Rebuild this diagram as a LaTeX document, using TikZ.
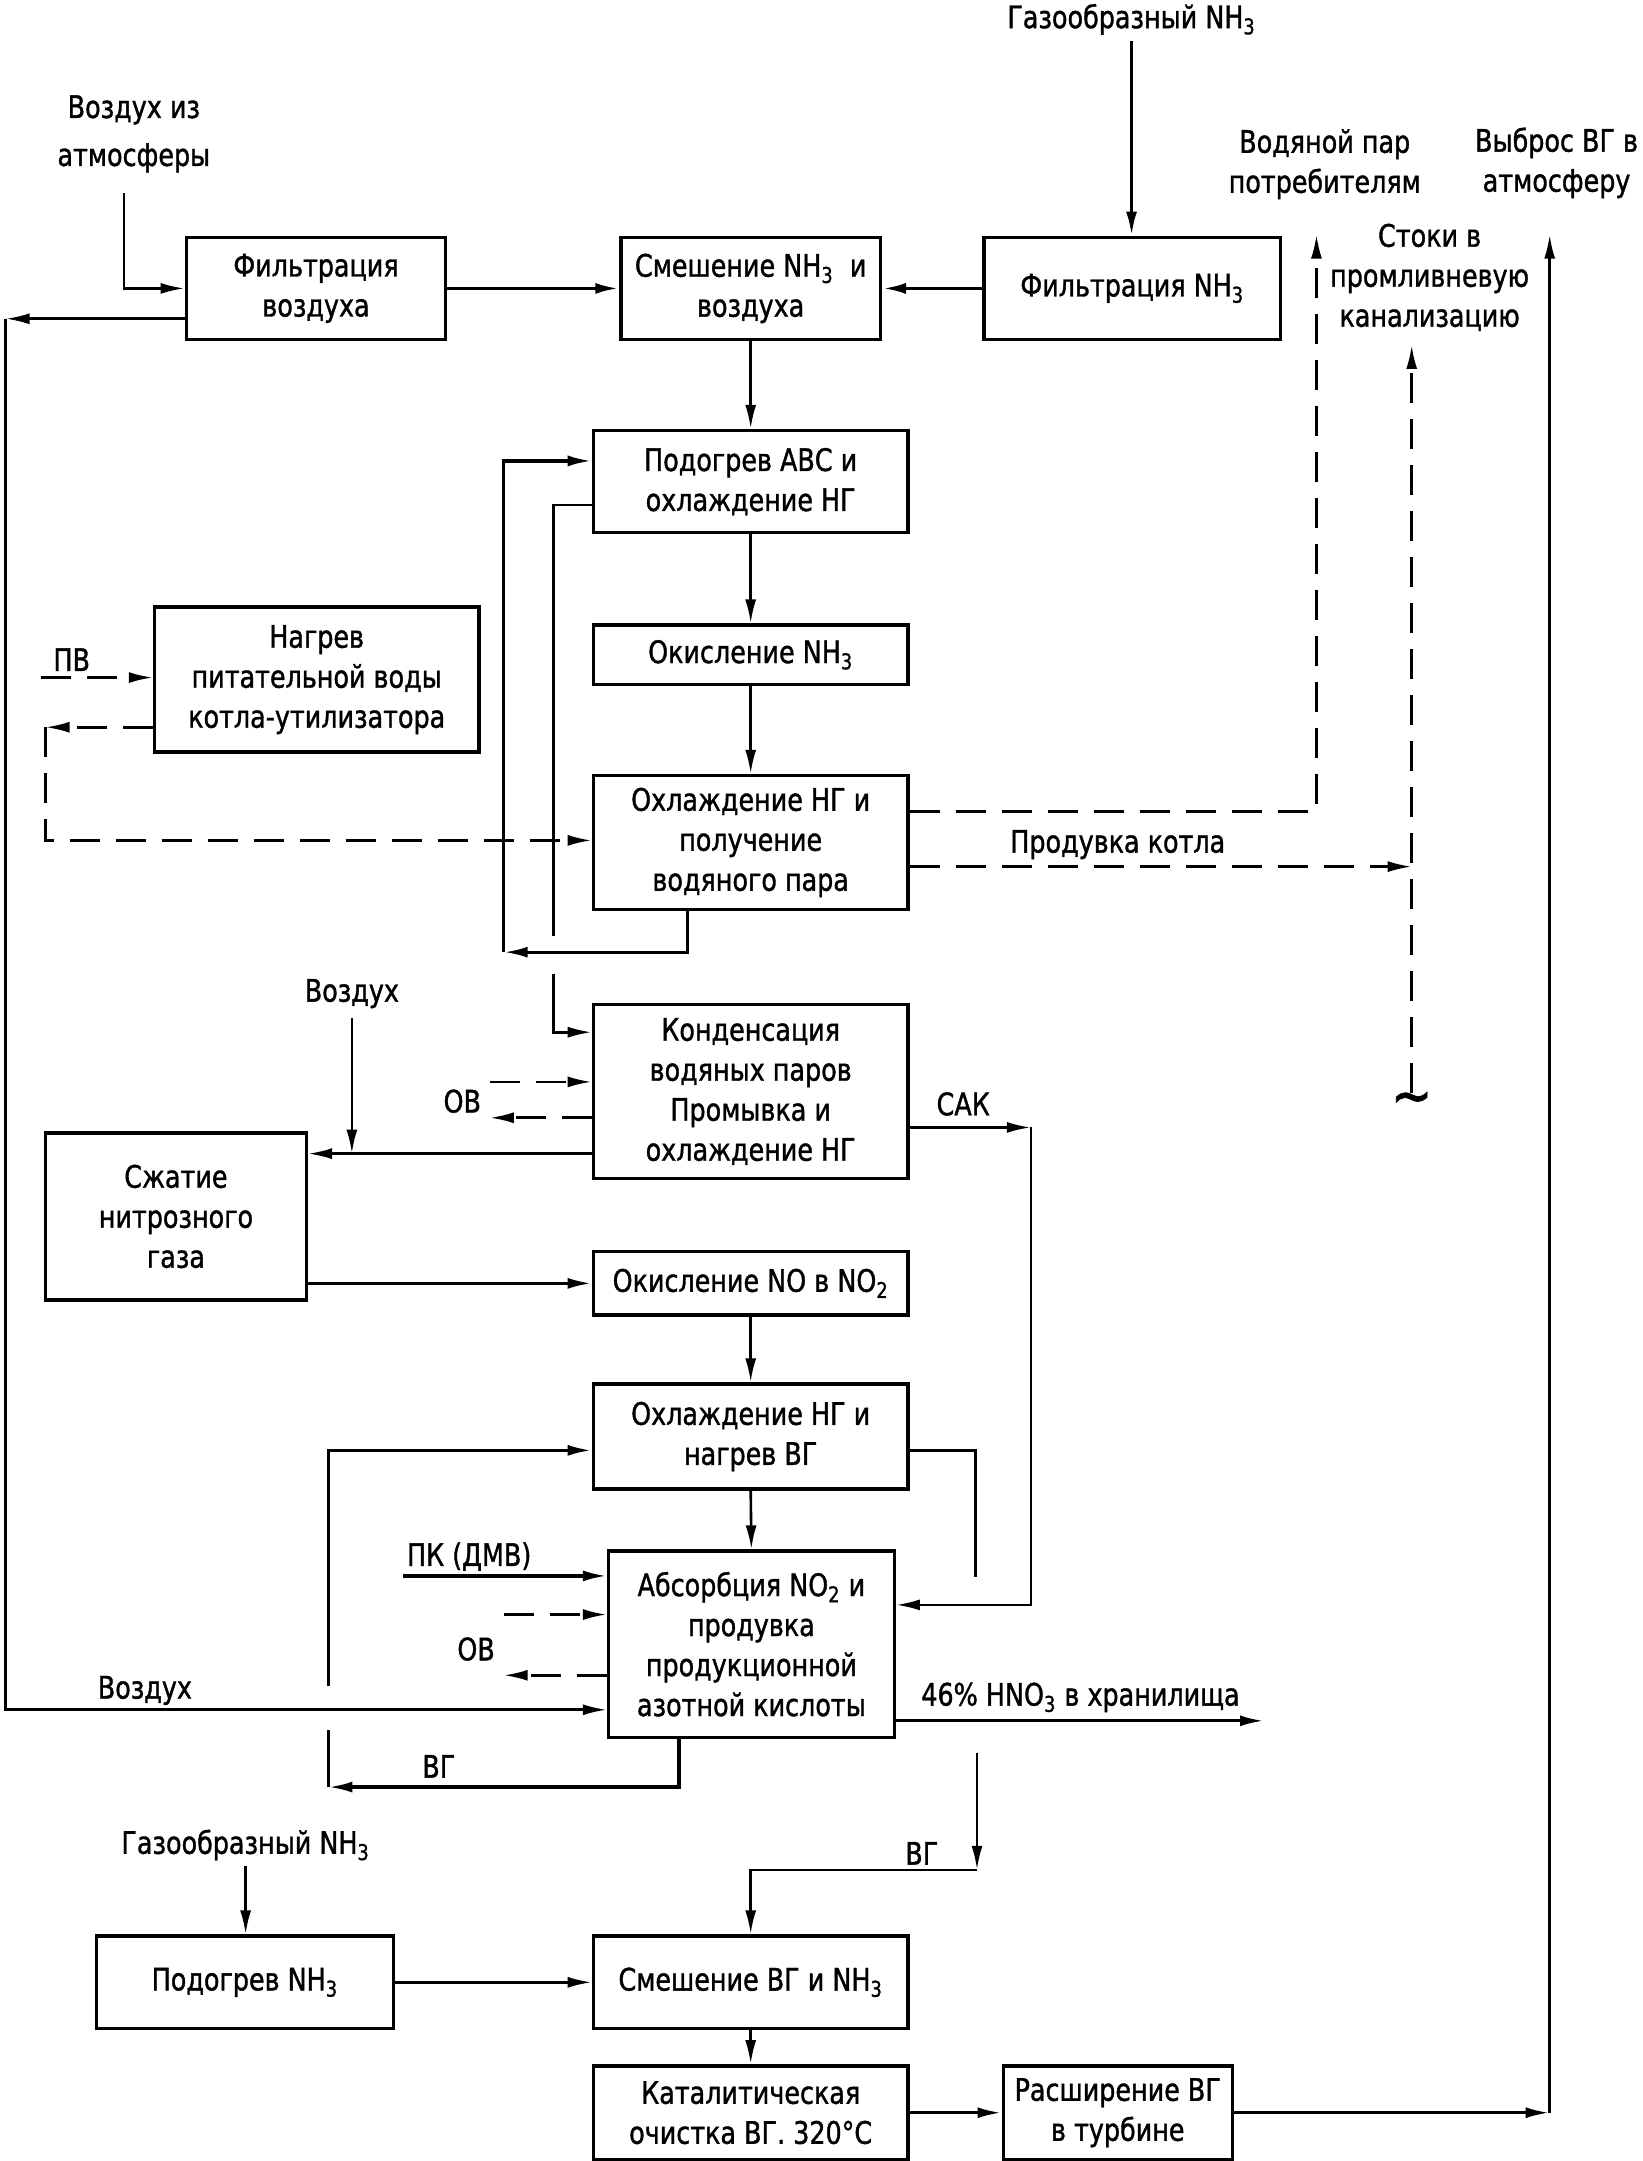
\documentclass[tikz,border=0pt]{standalone}
\usepackage{fontspec}
\setmainfont{DejaVu Sans}[FakeStretch=0.82, FakeBold=1.2]
\usetikzlibrary{arrows.meta}
\newcommand\fs{\fontsize{15.5}{20}\selectfont}
\newcommand\pbox[6]{\node[box, minimum width={(#4-#2)*0.69pt}, minimum height={(#5-#3)*0.69pt}] (#1) at ({(#2+#4)/2},{(#3+#5)/2}) {#6};}
\tikzset{
 box/.style={draw, line width=1.7pt, align=center, inner sep=0pt, font=\fs},
 con/.style={line width=1.3pt},
 arr/.style={con, -{Latex[length=12pt,width=5.5pt]}},
 darr/.style={arr, dash pattern=on 15pt off 8pt},
 dcon/.style={con, dash pattern=on 15pt off 8pt},
 lbl/.style={align=center, inner sep=0pt, font=\fs},
}
\begin{document}
\begin{tikzpicture}[x=0.69pt, y=-0.69pt]
\useasboundingbox (0,0) rectangle (1190,1566);
% boxes
\pbox{b1}{135}{172}{323}{246}{Фильтрация\\воздуха}
\pbox{b2}{450}{172}{638}{246}{Смешение NH\textsubscript{3} \ и\\воздуха}
\pbox{b3}{713}{172}{928}{246}{Фильтрация NH\textsubscript{3}}
\pbox{b4}{430}{312}{658}{386}{Подогрев АВС и\\охлаждение НГ}
\pbox{b5}{430}{453}{658}{496}{Окисление NH\textsubscript{3}}
\pbox{b6}{430}{562}{658}{659}{Охлаждение НГ и\\получение\\водяного пара}
\pbox{b7}{112}{440}{347}{545}{Нагрев\\питательной воды\\котла-утилизатора}
\pbox{b8}{430}{728}{658}{854}{Конденсация\\водяных паров\\Промывка и\\охлаждение НГ}
\pbox{b9}{33}{821}{222}{942}{Сжатие\\нитрозного\\газа}
\pbox{b10}{430}{907}{658}{953}{Окисление NO в NO\textsubscript{2}}
\pbox{b11}{430}{1003}{658}{1079}{Охлаждение НГ и\\нагрев ВГ}
\pbox{b12}{441}{1124}{648}{1259}{Абсорбция NO\textsubscript{2} и\\продувка\\продукционной\\азотной кислоты}
\pbox{b13}{70}{1403}{285}{1470}{Подогрев NH\textsubscript{3}}
\pbox{b14}{430}{1403}{658}{1470}{Смешение ВГ и NH\textsubscript{3}}
\pbox{b15}{430}{1497}{658}{1565}{Каталитическая\\очистка ВГ. 320°С}
\pbox{b16}{727}{1497}{893}{1565}{Расширение ВГ\\в турбине}
% labels
\node[lbl] (tAtm) at (97,97) {Воздух из\\[4pt]атмосферы};
\node[lbl] (tNH3a) at (820,14) {Газообразный NH\textsubscript{3}};
\node[lbl] (tPar) at (960,119) {Водяной пар\\потребителям};
\node[lbl] (tVyb) at (1128,118) {Выброс ВГ в\\атмосферу};
\node[lbl] (tStok) at (1036,201) {Стоки в\\промливневую\\канализацию};
\node[lbl] (tPV) at (52,478) {ПВ};
\node[lbl] (tProd) at (810,612) {Продувка котла};
\node[lbl] (tVoz1) at (255,720) {Воздух};
\node[lbl] (tOV1) at (335,798) {ОВ};
\node[lbl] (tSAK) at (698,800) {САК};
\node[lbl] (tPK) at (340,1128) {ПК (ДМВ)};
\node[lbl] (tOV2) at (345,1195) {ОВ};
\node[lbl] (tVoz2) at (105,1225) {Воздух};
\node[lbl] (tHNO) at (783,1230) {46\% HNO\textsubscript{3} в хранилища};
\node[lbl] (tVG1) at (318,1280) {ВГ};
\node[lbl] (tVG2) at (668,1343) {ВГ};
\node[lbl] (tNH3b) at (178,1337) {Газообразный NH\textsubscript{3}};
\node[lbl, font=\fontsize{30}{30}\selectfont] (tilde) at (1023,800) {∼};
% coordinates
\coordinate (airA) at (90,140);
\coordinate (Lt) at (4,231);
\coordinate (Lb) at (4,1239);
\coordinate (nh3top) at (820,30);
\coordinate (loopA) at (498,690);
\coordinate (loopB) at (365,690);
\coordinate (inA) at (401,678);
\coordinate (inB) at (401,706);
\coordinate (pv) at (30,491);
\coordinate (pvR) at (33,527);
\coordinate (parTop) at (954,170);
\coordinate (stokB) at (1023,792);
\coordinate (stokT) at (1023,250);
\coordinate (stokM) at (1023,628);
\coordinate (ov1a) at (355,784);
\coordinate (ov1b) at (355,810);
\coordinate (vozTop) at (255,738);
\coordinate (vozBot) at (255,836);
\coordinate (sakA) at (747,817);
\coordinate (hotA) at (707,1143);
\coordinate (vgUp) at (238,1222);
\coordinate (vgLo) at (238,1295);
\coordinate (vgLo2) at (238,1254);
\coordinate (pk) at (292,1142);
\coordinate (ov2a) at (365,1170);
\coordinate (ov2b) at (365,1214);
\coordinate (hno) at (916,1247);
\coordinate (vgA) at (708,1270);
\coordinate (vgB) at (708,1355);
\coordinate (nh3b) at (178,1352);
\coordinate (outR) at (1123,1531);
\coordinate (outT) at (1123,170);
% connectors
\draw[arr] (airA) |- (b1.west |- 0,209);
\draw[arr] (b1.west |- Lt) -- (Lt);
\draw[arr] (Lt) -- (Lb) -- (b12.west |- Lb);
\draw[arr, line width=1.8pt] (b1.east |- 0,209) -- (b2.west |- 0,209);
\draw[arr, line width=1.8pt] (b3.west |- 0,209) -- (b2.east |- 0,209);
\draw[arr, line width=1.6pt] (nh3top) -- (b3.north -| nh3top);
\draw[arr] (b2.south) -- (b4.north);
\draw[arr] (b4.south) -- (b5.north);
\draw[arr] (b5.south) -- (b6.north);
\draw[arr, line width=1.6pt] (b6.south -| loopA) -- (loopA) -- (loopB);
\draw[arr, line width=1.6pt] (loopB) -- (365,334) -- (b4.west |- 0,334);
\draw[con] (b4.west |- 0,366) -| (inA);
\draw[arr] (inB) |- (b8.west |- 0,748);
\draw[darr] (pv) -- (b7.west |- pv);
\draw[darr] (b7.west |- pvR) -- (pvR);
\draw[darr] (pvR) |- (b6.west |- 0,609);
\draw[darr] (b6.east |- 0,588) -| (parTop);
\draw[darr] (b6.east |- stokM) -- (stokM);
\draw[darr] (stokB) -- (stokT);
\draw[darr] (ov1a) -- (b8.west |- ov1a);
\draw[darr] (b8.west |- ov1b) -- (ov1b);
\draw[arr] (b8.west |- vozBot) -- (b9.east |- vozBot);
\draw[arr] (vozTop) -- (vozBot);
\draw[arr, line width=1.6pt] (b9.east |- 0,930) -- (b10.west |- 0,930);
\draw[arr] (b10.south) -- (b11.north);
\draw[arr] (b11.south) -- (b12.north);
\draw[arr] (b8.east |- sakA) -- (sakA);
\draw[arr] (sakA) |- (b12.east |- 0,1163);
\draw[con] (b11.east |- 0,1051) -| (hotA);
\draw[arr, line width=1.6pt] (vgUp) |- (b11.west |- 0,1051);
\draw[arr, line width=1.6pt] (b12.south -| 492,0) |- (vgLo);
\draw[con, line width=1.6pt] (vgLo) -- (vgLo2);
\draw[arr, line width=1.6pt] (pk) -- (b12.west |- pk);
\draw[darr] (ov2a) -- (b12.west |- ov2a);
\draw[darr] (b12.west |- ov2b) -- (ov2b);
\draw[arr, line width=1.6pt] (b12.east |- hno) -- (hno);
\draw[arr] (vgA) -- (vgB);
\draw[arr] (vgB) -| (b14.north);
\draw[arr] (nh3b) -- (b13.north -| nh3b);
\draw[arr] (b13.east) -- (b14.west);
\draw[arr] (b14.south) -- (b15.north);
\draw[arr, line width=1.6pt] (b15.east) -- (b16.west);
\draw[arr, line width=1.6pt] (b16.east) -- (outR);
\draw[arr] (outR) -- (outT);
\end{tikzpicture}
\end{document}
